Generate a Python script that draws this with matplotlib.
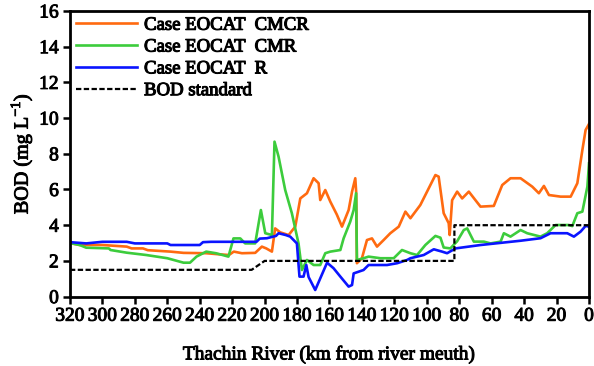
import matplotlib
matplotlib.use("Agg")
import matplotlib.pyplot as plt
import matplotlib.patheffects as pe

# km from river mouth, BOD (mg/L)
cmcr_km = [320, 314, 300, 285, 282, 275, 272, 258, 250, 236, 229.5, 222, 219, 214,
           205.8, 201.7, 199, 195.5, 193.5, 190.4, 185.2, 181.1, 178, 173.9, 169.8,
           166.7, 165.7, 162.6, 159.5, 155.5, 152.3, 148.2, 146.1, 144.1, 143.5, 143.1,
           140, 136.9, 133.8, 130.7, 126.6, 122.5, 117.3, 113.2, 110.1, 104, 97.8, 94.7,
           92.7, 89.6, 86.5, 85.9, 84.4, 81.3, 78.2, 74.1, 70, 66.9, 58.7, 53.5, 48.4,
           42.2, 35, 30.9, 27.8, 24.7, 17.5, 11.3, 7.2, 4.1, 2.1, 0]
cmcr_bod = [3.0, 2.89, 2.89, 2.8, 2.7, 2.7, 2.6, 2.52, 2.45, 2.43, 2.38, 2.33, 2.52, 2.43,
            2.45, 2.8, 2.7, 2.52, 3.82, 3.6, 3.45, 3.92, 5.5, 5.79, 6.63,
            6.35, 5.41, 5.97, 5.32, 4.6, 3.92, 4.85, 5.88, 6.63, 5.79, 1.87,
            2.15, 3.17, 3.26, 2.8, 3.17, 3.55, 3.92, 4.76, 4.39, 5.13, 6.25, 6.81,
            6.72, 4.67, 4.11, 3.45, 5.4, 5.88, 5.5, 5.88, 5.4, 5.04, 5.08, 6.25, 6.63,
            6.63, 6.16, 5.79, 6.2, 5.69, 5.6, 5.6, 6.35, 8.21, 9.33, 9.67]

cmr_km = [320, 314, 310, 296, 295, 285, 273, 260, 250, 246, 242, 236, 230, 222.3, 219.2,
          215, 212, 205.8, 202.3, 199.6, 195.5, 193.9, 191.4, 187.3, 183.2, 179.1, 177,
          173.9, 169.8, 165.7, 162.6, 159.5, 153.3, 151.3, 147.2, 145.1, 143.6, 143.1,
          139, 135.9, 128.6, 120.4, 115.3, 110.1, 106, 100.9, 94.7, 91.6, 89.6, 85.5,
          81.3, 77.2, 75.1, 71, 64.8, 60.7, 54.5, 52.5, 48.4, 42.2, 38.1, 29.9, 25.8,
          20.6, 12.4, 10.3, 7.2, 4.1, 1, 0]
cmr_bod = [3.0, 2.89, 2.74, 2.7, 2.61, 2.46, 2.33, 2.15, 1.9, 1.9, 2.24, 2.52, 2.43, 2.24, 3.26,
           3.26, 2.98, 2.98, 4.85, 3.55, 3.45, 8.68, 7.84, 5.97, 4.67, 2.98, 1.49,
           2.05, 1.77, 1.77, 2.43, 2.52, 2.61, 3.26, 4.2, 4.85, 5.79, 2.05,
           2.15, 2.24, 2.15, 2.15, 2.61, 2.43, 2.33, 2.89, 3.4, 3.3, 2.75, 2.7,
           3.1, 3.73, 3.82, 3.08, 3.08, 2.98, 3.08, 3.55, 3.36, 3.73, 3.55, 3.36, 3.55,
           4.01, 4.01, 3.95, 4.67, 4.76, 6.16, 7.47]

r_km = [320, 310, 300, 285, 280, 260, 258, 240, 238, 233, 205, 203, 198.6, 193, 191.4,
        187, 184.2, 180.1, 178.5, 176, 174.3, 172.9, 168.8, 161.5, 157.5, 153.3, 148.2,
        146.1, 145.1, 139, 135.9, 124.5, 118.3, 112.2, 110.1, 101.9, 95.7, 90.6, 87.5,
        82.3, 66.9, 42.2, 29.9, 23.7, 13.4, 9.3, 5.2, 2.1, 0]
r_bod = [3.05, 2.98, 3.07, 3.07, 2.98, 2.98, 2.89, 2.89, 3.05, 3.07, 3.07, 3.25, 3.27, 3.4, 3.55,
         3.45, 3.36, 2.98, 1.12, 1.12, 1.77, 1.1, 0.37, 1.9, 1.59, 1.12, 0.56,
         0.65, 1.3, 1.49, 1.77, 1.77, 1.87, 2.05, 2.15, 2.33, 2.65, 2.52, 2.43,
         2.7, 2.89, 3.13, 3.27, 3.55, 3.55, 3.36, 3.64, 3.96, 3.92]

std_km = [320, 208, 200, 83, 83, 0]
std_bod = [1.5, 1.5, 2.0, 2.0, 4.0, 4.0]

plt.rcParams["font.family"] = ["Liberation Serif", "DejaVu Serif"]
plt.rcParams["mathtext.fontset"] = "custom"
plt.rcParams["mathtext.rm"] = "Liberation Serif"

# slightly heavier text, like the scanned original
heavy = [pe.withStroke(linewidth=0.7, foreground="black")]

fig = plt.figure(figsize=(5.94, 3.66), dpi=100)
ax = fig.add_axes([0.1178, 0.1896, 0.8738, 0.7804])

ax.plot(cmcr_km, cmcr_bod, color="#ff6a10", lw=1.9, label="Case EOCAT  CMCR")
ax.plot(cmr_km, cmr_bod, color="#3ccc3c", lw=1.9, label="Case EOCAT  CMR")
ax.plot(r_km, r_bod, color="#0a14ff", lw=1.9, label="Case EOCAT  R")
ax.plot(std_km, std_bod, color="black", lw=1.6, dashes=(2.4, 1.1), label="BOD standard")

ax.set_xlim(320, 0)
ax.set_ylim(0, 16)
ax.set_xticks(range(320, -1, -20))
ax.set_yticks(range(0, 17, 2))
ax.tick_params(direction="out", length=5, width=1.8, labelsize=14, pad=3)
for lbl in ax.get_xticklabels() + ax.get_yticklabels():
    lbl.set_path_effects(heavy)
for s in ax.spines.values():
    s.set_linewidth(2)

xl = ax.set_xlabel("Thachin River (km from river meuth)", fontsize=14, labelpad=15)
yl = ax.set_ylabel("BOD (mg L$^{-1}$)", fontsize=14.5, labelpad=3)
xl.set_path_effects(heavy)
yl.set_path_effects(heavy)

leg = ax.legend(loc="upper left", frameon=False, fontsize=13.5,
                handlelength=3.3, borderaxespad=0.1, borderpad=0.2,
                labelspacing=0.25, handletextpad=0.35)
for t in leg.get_texts():
    t.set_path_effects([pe.withStroke(linewidth=0.8, foreground="black")])

fig.savefig("out.png", dpi=100)
